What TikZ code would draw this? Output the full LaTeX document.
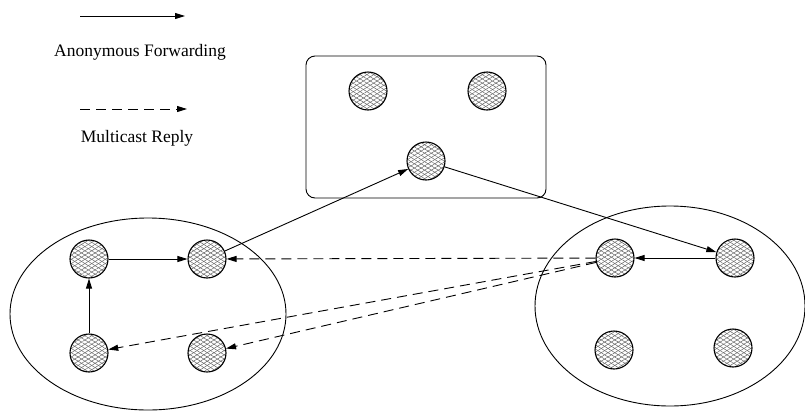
\documentclass[tikz,border=0pt]{standalone}
\usepackage{fontspec}
\setmainfont{Liberation Serif}
\usetikzlibrary{arrows.meta,patterns.meta}

\begin{document}
\begin{tikzpicture}[x=1pt, y=-1pt, >={Triangle[length=10pt,width=6pt]}, line width=0.9pt,
  every node/.style={font=\fontsize{17.5}{20}\selectfont},
  peer/.style={circle, draw, line width=1.1pt, minimum size=38pt, inner sep=0pt,
    preaction={pattern={Lines[angle=32,distance=3.6pt,line width=0.5pt]}, pattern color=black!60},
    pattern={Lines[angle=-32,distance=3.6pt,line width=0.5pt]}, pattern color=black!60},
  fwd/.style={->},
  reply/.style={->, dash pattern=on 10pt off 6pt}]
				\useasboundingbox (0,0) rectangle (805,410);
				
				% 1. 图例
				\coordinate (fwdA) at (80,16);
				\coordinate (fwdB) at (185,16);
				\draw[fwd] (fwdA) -- (fwdB);
				\node (fwdtext) at (140,52) {Anonymous Forwarding};
				\coordinate (repA) at (80,109);
				\coordinate (repB) at (187,109);
				\draw[reply] (repA) -- (repB);
				\node (reptext) at (137,138) {Multicast Reply};
				
				% 2. 外框：圆角矩形与两个椭圆
				\draw[rounded corners=9pt] (306,56) rectangle (546,198);
				\draw (148,314) ellipse [x radius=138, y radius=96];
				\draw (670,306) ellipse [x radius=135, y radius=100];
				
				% 3. 节点
				\node[peer] (T1) at (368,91) {};
				\node[peer] (T2) at (487,91) {};
				\node[peer] (T3) at (426,161) {};
				\node[peer] (L1) at (89,259) {};
				\node[peer] (L2) at (207,259) {};
				\node[peer] (L3) at (89,353) {};
				\node[peer] (L4) at (207,353) {};
				\node[peer] (R1) at (615,258) {};
				\node[peer] (R2) at (735,258) {};
				\node[peer] (R3) at (614,350) {};
				\node[peer] (R4) at (733,348) {};
				
				% 4. 匿名转发（实线）
				\draw[fwd] (L3) -- (L1);
				\draw[fwd] (L1) -- (L2);
				\draw[fwd] (L2) -- (T3);
				\draw[fwd] (T3) -- (R2);
				\draw[fwd] (R2) -- (R1);
				
				% 5. 组播回复（虚线）
				\draw[reply] (R1) -- (L2);
				\draw[reply] (R1) -- (L3);
				\draw[reply] (R1) -- (L4);
			\end{tikzpicture}
\end{document}
